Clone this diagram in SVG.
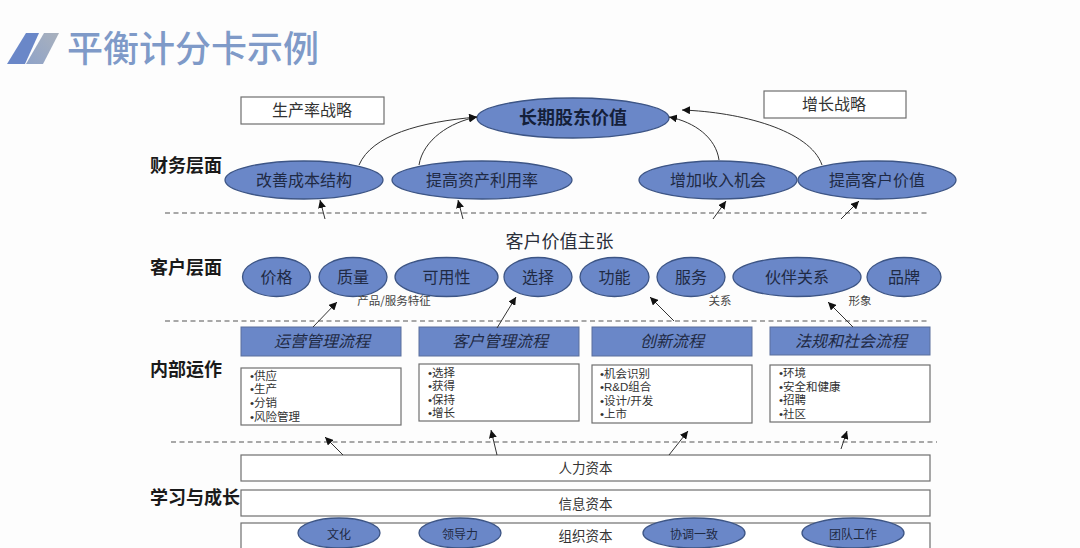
<svg xmlns="http://www.w3.org/2000/svg" width="1080" height="548" viewBox="0 0 1080 548">
<style>
text{font-family:"Noto Sans CJK SC","Liberation Sans",sans-serif;fill:#2a2f3a;text-anchor:middle;dominant-baseline:central}
.e{fill:#6a87c8;stroke:#3d5585;stroke-width:1.3}
.blue{fill:#6a87c8;stroke:#5a6f9c;stroke-width:1}
.box{fill:#fff;stroke:#6f6f6f;stroke-width:1.2}
.dash{stroke:#555;stroke-width:1.2;stroke-dasharray:5 3.5;fill:none}
.arr{stroke:#333;stroke-width:1;fill:none;marker-end:url(#a)}
.lab{font-size:18px;font-weight:700;fill:#1a1a1a;text-anchor:start}
.n{font-size:16px;fill:#1f2a44}
.t{font-size:16px;fill:#333}
.s{font-size:11.5px;fill:#444}
.it{font-size:16px;font-style:italic;fill:#1f2a44}
.li{font-family:"Liberation Sans","Noto Sans CJK SC",sans-serif;font-size:11.5px;text-anchor:start;dominant-baseline:auto;fill:#333}
.cap{font-size:13.5px;fill:#333}
.sm{font-size:12px;fill:#1f2a44}
</style>
<defs>
<marker id="a" markerUnits="userSpaceOnUse" markerWidth="9" markerHeight="8" refX="8" refY="4" orient="auto"><path d="M0 0L8 4L0 8z" fill="#111"/></marker>
<linearGradient id="g" x1="0" y1="1" x2="1" y2="0"><stop offset="0" stop-color="#8fa3c8"/><stop offset="1" stop-color="#a9b1bd"/></linearGradient>
</defs>
<rect width="1080" height="548" fill="#fdfdfd"/>
<g id="header">
<polygon points="7,64 25,64 39,33 26,33" fill="#6a87c8"/>
<polygon points="26,64 43,64 59,33 44,33" fill="url(#g)"/>
<text x="67" y="46" style="font-size:36px;font-weight:500;fill:#7f9ac8;text-anchor:start">平衡计分卡示例</text>
</g>
<g id="dividers">
<line class="dash" x1="165" y1="213" x2="930" y2="213"/>
<line class="dash" x1="165" y1="321" x2="930" y2="321"/>
<line class="dash" x1="171" y1="442" x2="937" y2="442"/>
</g>
<g id="layer-labels">
<text class="lab" x="150" y="164">财务层面</text>
<text class="lab" x="150" y="266">客户层面</text>
<text class="lab" x="150" y="368">内部运作</text>
<text class="lab" x="150" y="496">学习与成长</text>
</g>
<g id="strategy-productivity"><rect class="box" x="241" y="97" width="143" height="27"/><text class="t" x="312" y="109">生产率战略</text></g>
<g id="strategy-growth"><rect class="box" x="764" y="91" width="142" height="27"/><text class="t" x="834" y="103">增长战略</text></g>
<g id="shareholder-value"><ellipse class="e" cx="573" cy="118" rx="96" ry="20"/><text x="573" y="116" style="font-size:18px;font-weight:700;fill:#14203a">长期股东价值</text></g>
<g id="f1"><ellipse class="e" cx="304" cy="180" rx="79" ry="19"/><text class="n" x="304" y="179">改善成本结构</text></g>
<g id="f2"><ellipse class="e" cx="482" cy="180" rx="90" ry="19"/><text class="n" x="482" y="179">提高资产利用率</text></g>
<g id="f3"><ellipse class="e" cx="718" cy="180" rx="79" ry="19"/><text class="n" x="718" y="179">增加收入机会</text></g>
<g id="f4"><ellipse class="e" cx="877" cy="180" rx="79" ry="19"/><text class="n" x="877" y="179">提高客户价值</text></g>
<g id="value-title"><text x="559.500" y="240" style="font-size:18px">客户价值主张</text></g>
<g id="c1"><ellipse class="e" cx="276.500" cy="277" rx="34" ry="19.500"/><text class="n" x="276.500" y="276">价格</text></g>
<g id="c2"><ellipse class="e" cx="353" cy="277" rx="34" ry="19.500"/><text class="n" x="353" y="276">质量</text></g>
<g id="c3"><ellipse class="e" cx="446.500" cy="277" rx="51.500" ry="19.500"/><text class="n" x="446.500" y="276">可用性</text></g>
<g id="c4"><ellipse class="e" cx="538" cy="277" rx="34" ry="19.500"/><text class="n" x="538" y="276">选择</text></g>
<g id="c5"><ellipse class="e" cx="614.500" cy="277" rx="34.500" ry="19.500"/><text class="n" x="614.500" y="276">功能</text></g>
<g id="c6"><ellipse class="e" cx="691" cy="277" rx="34" ry="19.500"/><text class="n" x="691" y="276">服务</text></g>
<g id="c7"><ellipse class="e" cx="797" cy="277" rx="64" ry="19.500"/><text class="n" x="797" y="276">伙伴关系</text></g>
<g id="c8"><ellipse class="e" cx="904" cy="277" rx="37" ry="19.500"/><text class="n" x="904" y="276">品牌</text></g>
<g id="value-captions">
<text class="s" x="394" y="300">产品/服务特征</text>
<text class="s" x="720" y="300">关系</text>
<text class="s" x="860" y="300">形象</text>
</g>
<g id="p1"><rect class="blue" x="241" y="327" width="160" height="29"/><text class="it" x="322" y="340">运营管理流程</text></g>
<g id="p2"><rect class="blue" x="419" y="327" width="160" height="29"/><text class="it" x="500" y="340">客户管理流程</text></g>
<g id="p3"><rect class="blue" x="592" y="327" width="160" height="29"/><text class="it" x="672" y="340">创新流程</text></g>
<g id="p4"><rect class="blue" x="770" y="327" width="160" height="28"/><text class="it" x="851" y="340">法规和社会流程</text></g>
<g id="d1"><rect class="box" x="241" y="368" width="160" height="57"/>
<text class="li"><tspan x="250" y="380">•供应</tspan><tspan x="250" y="393">•生产</tspan><tspan x="250" y="407">•分销</tspan><tspan x="250" y="421">•风险管理</tspan></text></g>
<g id="d2"><rect class="box" x="419" y="364" width="160" height="57"/>
<text class="li"><tspan x="428" y="377">•选择</tspan><tspan x="428" y="390">•获得</tspan><tspan x="428" y="404">•保持</tspan><tspan x="428" y="417">•增长</tspan></text></g>
<g id="d3"><rect class="box" x="592" y="365" width="160" height="58"/>
<text class="li"><tspan x="600" y="378">•机会识别</tspan><tspan x="600" y="391">•R&amp;D组合</tspan><tspan x="600" y="405">•设计/开发</tspan><tspan x="600" y="418">•上市</tspan></text></g>
<g id="d4"><rect class="box" x="770" y="365" width="160" height="57"/>
<text class="li"><tspan x="779" y="377">•环境</tspan><tspan x="779" y="391">•安全和健康</tspan><tspan x="779" y="404">•招聘</tspan><tspan x="779" y="418">•社区</tspan></text></g>
<g id="human-capital"><rect class="box" x="241" y="455" width="689" height="26"/><text class="cap" x="585.500" y="467">人力资本</text></g>
<g id="info-capital"><rect class="box" x="241" y="490" width="689" height="26"/><text class="cap" x="585.500" y="503">信息资本</text></g>
<g id="org-capital"><rect class="box" x="241" y="523" width="689" height="30"/><text class="cap" x="585.500" y="535">组织资本</text></g>
<g id="o1"><ellipse class="e" cx="339" cy="533" rx="41" ry="15"/><text class="sm" x="339" y="533">文化</text></g>
<g id="o2"><ellipse class="e" cx="460" cy="533" rx="41" ry="15"/><text class="sm" x="460" y="533">领导力</text></g>
<g id="o3"><ellipse class="e" cx="694" cy="533" rx="51" ry="15"/><text class="sm" x="694" y="533">协调一致</text></g>
<g id="o4"><ellipse class="e" cx="853" cy="533" rx="51" ry="15"/><text class="sm" x="853" y="533">团队工作</text></g>
<g id="connectors">
<path class="arr" d="M359 165C372 135 420 122 477 117"/>
<path class="arr" d="M419 165C423 140 450 122 477 117"/>
<path class="arr" d="M719 160C716 138 695 122 669 117"/>
<path class="arr" d="M822 165C810 130 740 112 682 110"/>
<path class="arr" d="M325 219L320 200"/>
<path class="arr" d="M463 219L458 200"/>
<path class="arr" d="M713 219L726 201"/>
<path class="arr" d="M841 219L859 201"/>
<path class="arr" d="M313 327L337 302"/>
<path class="arr" d="M497 328L516 297"/>
<path class="arr" d="M674 321L650 297"/>
<path class="arr" d="M853 327L828 302"/>
<path class="arr" d="M343 455L325 437"/>
<path class="arr" d="M497 455L491 430"/>
<path class="arr" d="M669 455L688 431"/>
<path class="arr" d="M841 449L847 431"/>
</g>
</svg>
